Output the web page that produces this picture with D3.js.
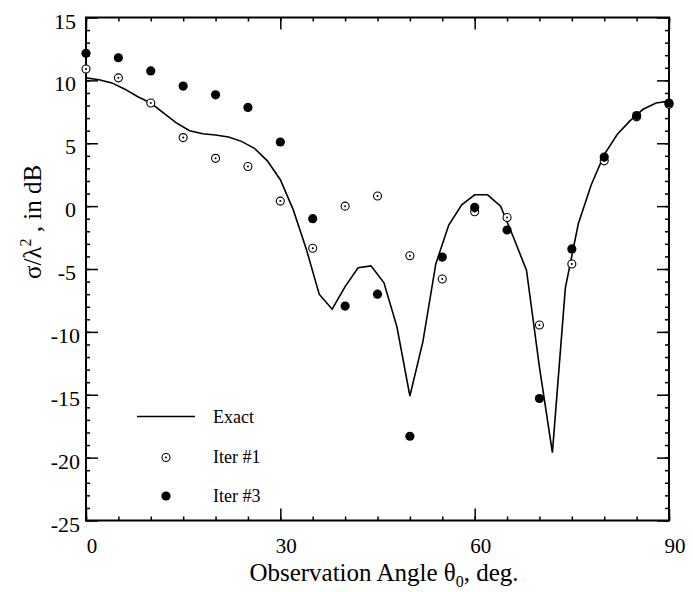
<!DOCTYPE html>
<html>
<head>
<meta charset="utf-8">
<script src="https://cdn.jsdelivr.net/npm/d3@7"></script>
<style>
  html, body { margin: 0; padding: 0; background: #fff; }
  svg { display: block; }
  text { font-family: "Liberation Serif", "Times New Roman", serif; fill: #000; }
</style>
</head>
<body>
<svg id="chart" width="693" height="592"></svg>
<script>
// ---- data ----
const exactAngles = [0,2,4,6,8,10,12,14,16,18,20,22,24,26,28,30,32,34,36,38,40,42,44,46,48,50,52,54,56,58,60,62,64,66,68,70,72,74,76,78,80,82,84,86,88,90];
const exactValues = [10.2,10.05,9.8,9.3,8.7,8.2,7.4,6.6,6.0,5.75,5.65,5.5,5.15,4.6,3.6,2.1,-0.3,-3.4,-7.0,-8.2,-6.4,-4.9,-4.75,-6.1,-9.6,-15.1,-10.8,-4.6,-1.5,0.1,0.9,0.9,0.0,-2.5,-5.1,-12.8,-19.6,-6.5,-1.4,1.7,4.1,5.7,6.8,7.7,8.2,8.35];
const iterAngles = [0,5,10,15,20,25,30,35,40,45,50,55,60,65,70,75,80,85,90];
const iter1Values = [10.9,10.2,8.2,5.45,3.8,3.15,0.4,-3.35,0.0,0.8,-3.95,-5.8,-0.45,-0.9,-9.45,-4.6,3.6,7.1,8.1];
const iter3Values = [12.15,11.8,10.75,9.55,8.85,7.85,5.1,-1.0,-7.95,-7.0,-18.3,-4.05,-0.1,-1.9,-15.3,-3.4,3.9,7.2,8.2];
const xMajorTicks = [0,30,60,90];
const yMajorTicks = [-25,-20,-15,-10,-5,0,5,10,15];
const legendLabels = ["Exact","Iter #1","Iter #3"];

// ---- layout ----
const svg = d3.select("#chart");
const L = 86, R = 669, T = 17.5, B = 520.5;
const x = d3.scaleLinear().domain([0,90]).range([L,R]);
const y = d3.scaleLinear().domain([-25,15]).range([B,T]);

const xMinor = d3.range(0,91,5);
const yMinor = d3.range(-25,16,1);

// frame
svg.append("rect").attr("x",L).attr("y",T).attr("width",R-L).attr("height",B-T)
  .attr("fill","none").attr("stroke","#000").attr("stroke-width",2);

function ticks(g, axisGen) { return g.call(axisGen).call(s=>s.select(".domain").remove()); }
function addAxis(pos, gen, minorVals, majorVals) {
  svg.append("g").attr("transform",pos)
    .call(ticks, gen.tickValues(minorVals).tickSize(4).tickFormat(""))
    .selectAll("line").attr("stroke-width",1.5);
}
// bottom
addAxis(`translate(0,${B})`, d3.axisTop(x), xMinor);
svg.append("g").attr("transform",`translate(0,${B})`)
  .call(ticks, d3.axisTop(x).tickValues(xMajorTicks).tickSize(12).tickFormat(""))
  .selectAll("line").attr("stroke-width",1.5);
// top
addAxis(`translate(0,${T})`, d3.axisBottom(x), xMinor);
svg.append("g").attr("transform",`translate(0,${T})`)
  .call(ticks, d3.axisBottom(x).tickValues(xMajorTicks).tickSize(12).tickFormat(""))
  .selectAll("line").attr("stroke-width",1.5);
// left
addAxis(`translate(${L},0)`, d3.axisRight(y), yMinor);
svg.append("g").attr("transform",`translate(${L},0)`)
  .call(ticks, d3.axisRight(y).tickValues(yMajorTicks).tickSize(12).tickFormat(""))
  .selectAll("line").attr("stroke-width",1.5);
// right
addAxis(`translate(${R},0)`, d3.axisLeft(y), yMinor);
svg.append("g").attr("transform",`translate(${R},0)`)
  .call(ticks, d3.axisLeft(y).tickValues(yMajorTicks).tickSize(12).tickFormat(""))
  .selectAll("line").attr("stroke-width",1.5);

// tick labels
svg.append("g").selectAll("text").data(xMajorTicks).join("text")
  .attr("x",d=>x(d)+6).attr("y",553)
  .attr("text-anchor","middle").attr("font-size",21).text(d=>d);
svg.append("g").selectAll("text").data(yMajorTicks).join("text")
  .attr("x",d=>d<=-10 ? 80 : 76).attr("y",d=>y(d)+11)
  .attr("text-anchor","end").attr("font-size",22).text(d=>d);

// axis titles
const xt = svg.append("text").attr("x",384).attr("y",581).attr("text-anchor","middle").attr("font-size",25);
xt.append("tspan").text("Observation Angle θ");
xt.append("tspan").attr("font-size",16).attr("dy",6).text("0");
xt.append("tspan").attr("dy",-6).text(", deg.");

const yt = svg.append("text").attr("transform","translate(41,222) rotate(-90)")
  .attr("text-anchor","middle").attr("font-size",25);
yt.append("tspan").text("σ/λ");
yt.append("tspan").attr("font-size",16).attr("dy",-10).text("2");
yt.append("tspan").attr("dy",10).text(" , in dB");

// exact line
const line = d3.line().x((d,i)=>x(exactAngles[i])).y(d=>y(d));
svg.append("path").datum(exactValues).attr("d",line)
  .attr("fill","none").attr("stroke","#000").attr("stroke-width",1.6).attr("stroke-linejoin","miter");

// iter #1 markers (open circle with dot)
function openMarker(g){
  g.append("circle").attr("r",4).attr("fill","#fff").attr("stroke","#000").attr("stroke-width",1.1);
  g.append("circle").attr("r",1).attr("fill","#000");
}
const it1 = svg.append("g").selectAll("g").data(iter1Values).join("g")
  .attr("transform",(d,i)=>`translate(${x(iterAngles[i])},${y(d)})`);
it1.call(openMarker);

// iter #3 filled
svg.append("g").selectAll("circle").data(iter3Values).join("circle")
  .attr("cx",(d,i)=>x(iterAngles[i])).attr("cy",d=>y(d)).attr("r",4.6).attr("fill","#000");

// legend
const lg = svg.append("g");
lg.append("line").attr("x1",137).attr("x2",195).attr("y1",416.5).attr("y2",416.5)
  .attr("stroke","#000").attr("stroke-width",1.6);
const om = lg.append("g").attr("transform","translate(166,457.5)");
openMarker(om);
lg.append("circle").attr("cx",166).attr("cy",496).attr("r",4.6).attr("fill","#000");
lg.selectAll("text.lab").data(legendLabels).join("text").attr("class","lab")
  .attr("x",213).attr("y",(d,i)=>[423,463,502][i]).attr("font-size",18).text(d=>d);
</script>
</body>
</html>
